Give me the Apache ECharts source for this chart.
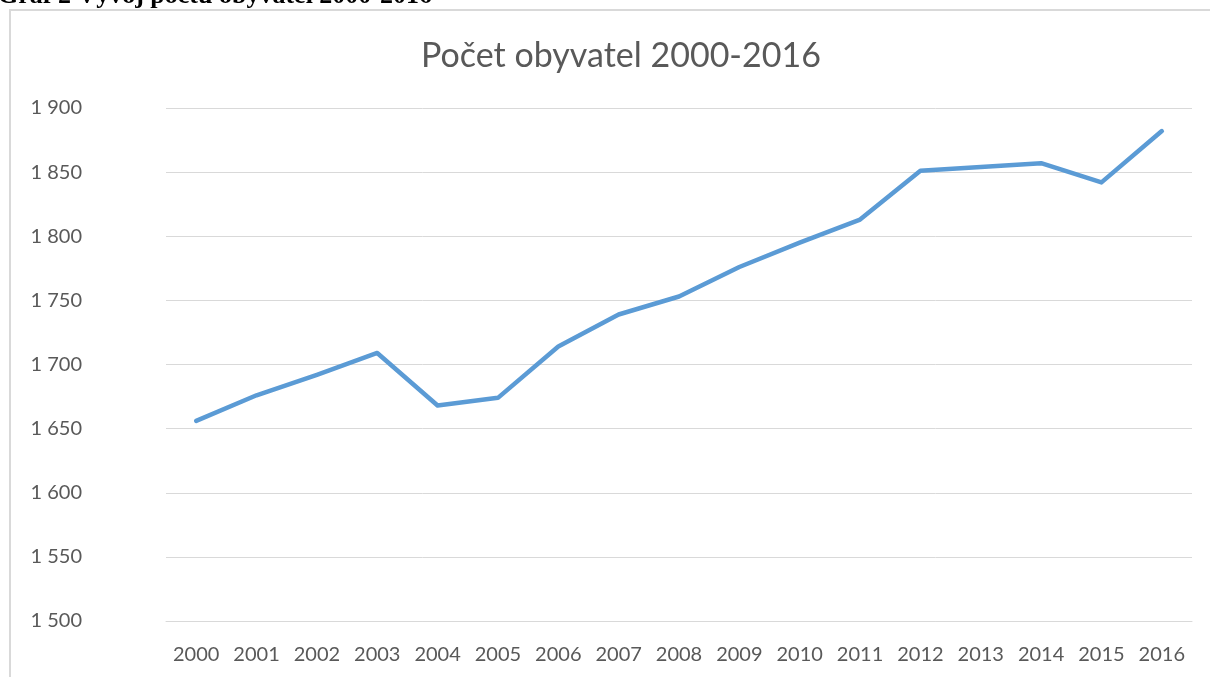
<!DOCTYPE html>
<html>
<head>
<meta charset="utf-8">
<script src="https://cdn.jsdelivr.net/npm/echarts@6/dist/echarts.min.js"></script>
<style>
  html, body { margin: 0; padding: 0; background: #fff; }
  #chart { width: 1210px; height: 677px; }
</style>
</head>
<body>
<div id="chart"></div>
<script>
// roky na ose x
const years = ['2000', '2001', '2002', '2003', '2004', '2005', '2006', '2007', '2008',
  '2009', '2010', '2011', '2012', '2013', '2014', '2015', '2016']
// počet obyvatel
const population = [1656, 1676, 1692, 1709, 1668, 1674, 1714, 1739, 1753,
  1776, 1795, 1813, 1851, 1854, 1857, 1842, 1882]
// osa y
const yMin = 1500
const yMax = 1900
const yStep = 50

const chart = echarts.init(document.getElementById('chart'))

const option = {
  backgroundColor: '#fff',
  animation: false,
  title: {
    text: 'Počet obyvatel 2000-2016',
    left: 416,
    top: 34,
    textStyle: {
      fontFamily: 'Lato',
      fontWeight: 'normal',
      fontSize: 34,
      color: '#595959'
    }
  },
  grid: {
    left: 166,
    right: 18,
    top: 108,
    bottom: 56
  },
  xAxis: {
    type: 'category',
    data: years,
    boundaryGap: true,
    axisLine: { show: true, lineStyle: { color: '#d9d9d9', width: 1 } },
    axisTick: { show: false },
    axisLabel: {
      margin: 24,
      fontFamily: 'Lato',
      fontSize: 20,
      color: '#595959'
    }
  },
  yAxis: {
    type: 'value',
    min: yMin,
    max: yMax,
    interval: yStep,
    axisLine: { show: false },
    axisTick: { show: false },
    splitLine: { lineStyle: { color: '#d9d9d9', width: 1 } },
    axisLabel: {
      margin: 84,
      fontFamily: 'Lato',
      fontSize: 20,
      color: '#595959',
      // mezera jako oddělovač tisíců
      formatter: v => String(v).replace(/\B(?=(\d{3})+(?!\d))/g, ' ')
    }
  },
  series: [
    {
      type: 'line',
      data: population,
      showSymbol: false,
      symbol: 'none',
      lineStyle: { color: '#5b9bd5', width: 4.5, cap: 'round', join: 'round' }
    }
  ],
  graphic: [
    // rámeček grafu (horní a levá hrana)
    {
      type: 'polyline',
      shape: { points: [[10, 677], [10, 10], [1210, 10]] },
      style: { stroke: '#d9d9d9', lineWidth: 2, fill: null }
    },
    // oříznutý popisek nad grafem
    {
      type: 'text',
      left: -2,
      top: -17,
      style: {
        text: 'Graf 2 Vývoj počtu obyvatel 2000-2016',
        font: 'bold 26px "Liberation Serif"',
        fill: '#000'
      }
    }
  ]
}

chart.setOption(option)
</script>
</body>
</html>
